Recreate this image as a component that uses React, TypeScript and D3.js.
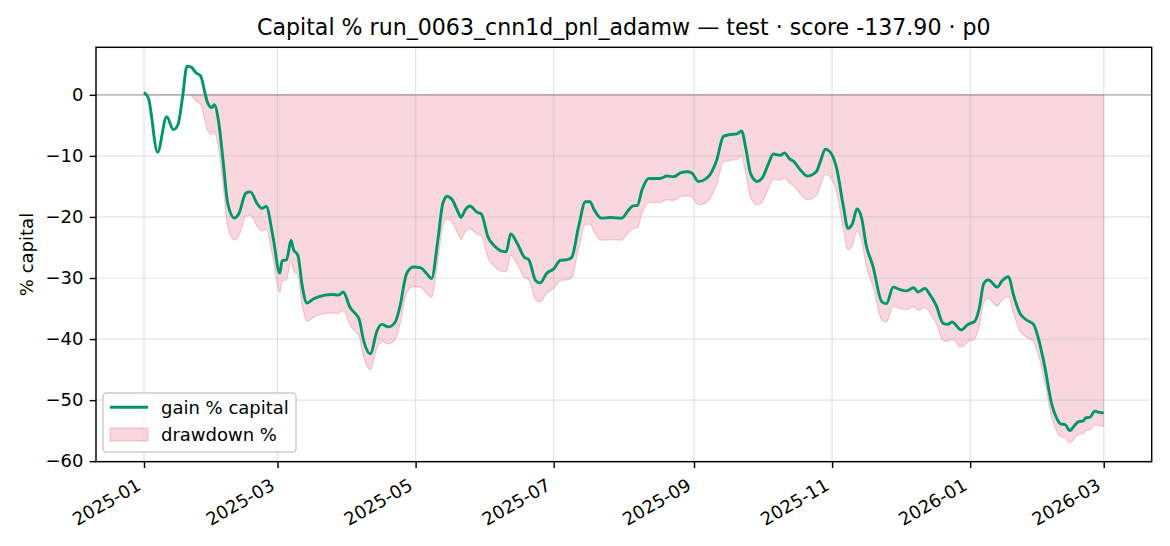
import React, { useEffect, useRef } from 'react';
import * as d3 from 'd3';

// day offsets from 2025-01-01
const startDate = '2025-01-01';
const dayOffsets = [
  0, 2, 6, 10, 13, 15, 17, 19, 21, 23, 25, 27, 28, 30, 31, 33, 35, 37, 40, 42,
  45, 47, 50, 52, 54, 57, 60, 61, 63, 65, 66, 68, 70, 72, 75, 80, 83, 86, 88, 91,
  94, 95, 97, 100, 103, 105, 108, 111, 113, 116, 119, 122, 125, 127, 130, 132, 134, 136, 139, 140,
  142, 144, 147, 149, 152, 155, 158, 160, 162, 165, 168, 170, 173, 175, 178, 181, 184, 187, 189, 192,
  195, 197, 199, 202, 206, 211, 214, 216, 218, 220, 223, 228, 231, 234, 237, 240, 242, 245, 248, 250,
  253, 256, 259, 262, 264, 266, 268, 271, 273, 276, 278, 281, 283, 285, 287, 290, 293, 297, 299, 301,
  303, 306, 309, 311, 313, 315, 317, 319, 322, 326, 328, 331, 334, 337, 340, 342, 345, 347, 350, 353,
  355, 357, 361, 364, 367, 369, 371, 373, 377, 379, 382, 384, 387, 390, 393, 395, 398, 401, 403, 405,
  407, 409, 411, 413, 415, 416, 418, 420, 422, 424,
];

const gainPct = [
  0.4, -0.6, -9.4, -3.6, -5.7, -4.9, -0.5, 4.7, 4.5, 3.6, 3.1, 0.2, -1.2, -2.1, -1.6, -4.5, -11.0, -17.8, -20.2, -19.4,
  -16.1, -15.9, -17.8, -18.6, -18.3, -23.3, -29.2, -27.2, -27.0, -23.8, -25.3, -26.3, -31.5, -34.1, -33.4, -32.8, -32.7, -32.8, -32.3, -34.8,
  -36.1, -36.7, -40.2, -42.4, -38.6, -37.6, -38.0, -37.2, -34.8, -29.3, -28.2, -28.3, -29.3, -30.1, -23.3, -17.8, -16.6, -17.1, -19.4, -20.1,
  -18.8, -18.2, -19.2, -19.5, -23.3, -24.8, -25.6, -25.7, -22.8, -24.4, -26.6, -27.0, -30.4, -30.8, -29.2, -28.5, -27.1, -27.0, -26.6, -21.6,
  -17.5, -17.5, -18.9, -20.2, -20.1, -20.2, -18.9, -18.2, -18.1, -15.6, -13.7, -13.7, -13.3, -13.4, -12.8, -12.6, -12.8, -14.2, -13.8, -13.1,
  -10.7, -6.8, -6.5, -6.4, -5.9, -9.0, -12.9, -14.2, -13.7, -11.2, -9.7, -9.9, -9.5, -10.4, -10.9, -12.3, -13.3, -12.6, -10.7, -8.9,
  -9.3, -12.0, -18.3, -21.9, -21.1, -18.7, -20.1, -24.5, -28.0, -33.9, -34.2, -31.5, -31.9, -32.1, -31.6, -32.3, -31.7, -32.6, -34.5, -37.4,
  -37.6, -37.2, -38.5, -37.6, -37.1, -35.0, -30.9, -30.3, -31.5, -30.5, -29.8, -32.6, -35.8, -36.9, -37.6, -39.7, -44.6, -50.6, -52.8, -53.9,
  -54.0, -55.0, -54.2, -53.5, -53.4, -52.9, -52.8, -51.8, -52.0, -52.1,
];

const drawdownPct = [
  0, 0, 0, 0, 0, 0, 0, 0, -0.2, -1.0, -1.5, -4.3, -5.7, -6.5, -6.0, -8.8, -15.0, -21.5, -23.8, -23.0,
  -19.9, -19.7, -21.5, -22.3, -22.0, -26.7, -32.4, -30.5, -30.3, -27.2, -28.7, -29.6, -34.6, -37.1, -36.4, -35.8, -35.7, -35.8, -35.3, -37.7,
  -39.0, -39.5, -42.9, -45.0, -41.4, -40.4, -40.8, -40.0, -37.7, -32.5, -31.4, -31.5, -32.5, -33.2, -26.7, -21.5, -20.3, -20.8, -23.0, -23.7,
  -22.4, -21.9, -22.8, -23.1, -26.7, -28.2, -28.9, -29.0, -26.3, -27.8, -29.9, -30.3, -33.5, -33.9, -32.4, -31.7, -30.4, -30.3, -29.9, -25.1,
  -21.2, -21.2, -22.5, -23.8, -23.7, -23.8, -22.5, -21.9, -21.8, -19.4, -17.6, -17.6, -17.2, -17.3, -16.7, -16.5, -16.7, -18.0, -17.7, -17.0,
  -14.7, -11.0, -10.7, -10.6, -10.1, -13.1, -16.8, -18.0, -17.6, -15.2, -13.8, -14.0, -13.6, -14.4, -14.9, -16.2, -17.2, -16.5, -14.7, -13.0,
  -13.4, -15.9, -22.0, -25.4, -24.6, -22.3, -23.7, -27.9, -31.2, -36.9, -37.2, -34.6, -35.0, -35.2, -34.7, -35.3, -34.8, -35.6, -37.4, -40.2,
  -40.4, -40.0, -41.3, -40.4, -39.9, -37.9, -34.0, -33.4, -34.6, -33.6, -33.0, -35.6, -38.7, -39.7, -40.4, -42.4, -47.1, -52.8, -54.9, -56.0,
  -56.1, -57.0, -56.3, -55.6, -55.5, -55.0, -54.9, -54.0, -54.2, -54.3,
];

const xTickLabels = ['2025-01', '2025-03', '2025-05', '2025-07', '2025-09', '2025-11', '2026-01', '2026-03'];
const yTicks = [-60, -50, -40, -30, -20, -10, 0];

const title = 'Capital % run_0063_cnn1d_pnl_adamw — test · score -137.90 · p0';
const lineColor = '#00966b';
const fillColor = '#dc143c';
const font = '"DejaVu Sans", sans-serif';

const App: React.FC = () => {
  const ref = useRef<SVGSVGElement | null>(null);

  useEffect(() => {
    if (!ref.current) return;
    const W = 1170, H = 546;
    const left = 96, right = 1151.7, top = 47.3, bottom = 461.7;

    const t0 = d3.utcParse('%Y-%m-%d')(startDate) as Date;
    const n = Math.min(dayOffsets.length, gainPct.length, drawdownPct.length);
    const rows = d3.range(n).map(i => ({
      date: d3.utcDay.offset(t0, dayOffsets[i]),
      gain: gainPct[i],
      dd: drawdownPct[i],
    }));

    const [xmin, xmax] = d3.extent(rows, d => d.date.getTime()) as [number, number];
    const xpad = (xmax - xmin) * 0.05;
    const x = d3.scaleUtc().domain([xmin - xpad, xmax + xpad]).range([left, right]);

    const ymin = Math.min(d3.min(rows, d => d.dd) as number, d3.min(rows, d => d.gain) as number, 0);
    const ymax = Math.max(d3.max(rows, d => d.gain) as number, 0);
    const ypad = (ymax - ymin) * 0.05;
    const y = d3.scaleLinear().domain([ymin - ypad, ymax + ypad]).range([bottom, top]);

    const svg = d3.select(ref.current);
    svg.selectAll('*').remove();
    svg.attr('width', W).attr('height', H).style('font-family', font);

    svg.append('rect').attr('width', W).attr('height', H).attr('fill', 'white');

    const tickDates = xTickLabels.map(s => d3.utcParse('%Y-%m')(s) as Date);

    // drawdown fill
    const area = d3.area<typeof rows[number]>()
      .x(d => x(d.date))
      .y0(y(0))
      .y1(d => y(d.dd))
      .curve(d3.curveMonotoneX);
    svg.append('path')
      .datum(rows)
      .attr('d', area)
      .attr('fill', fillColor)
      .attr('fill-opacity', 0.17)
      .attr('stroke', fillColor)
      .attr('stroke-opacity', 0.2)
      .attr('stroke-width', 1.2);

    // grid
    const grid = svg.append('g').attr('stroke', '#b0b0b0').attr('stroke-opacity', 0.35).attr('stroke-width', 1.2);
    grid.selectAll('.gx').data(tickDates).enter().append('line')
      .attr('x1', d => x(d)).attr('x2', d => x(d)).attr('y1', top).attr('y2', bottom);
    grid.selectAll('.gy').data(yTicks).enter().append('line')
      .attr('x1', left).attr('x2', right).attr('y1', d => y(d)).attr('y2', d => y(d));

    // zero line
    svg.append('line')
      .attr('x1', left).attr('x2', right).attr('y1', y(0)).attr('y2', y(0))
      .attr('stroke', '#7a7f88').attr('stroke-opacity', 0.6).attr('stroke-width', 1.3);

    // gain line
    const line = d3.line<typeof rows[number]>()
      .x(d => x(d.date))
      .y(d => y(d.gain))
      .curve(d3.curveMonotoneX);
    svg.append('path')
      .datum(rows)
      .attr('d', line)
      .attr('fill', 'none')
      .attr('stroke', lineColor)
      .attr('stroke-width', 2.9)
      .attr('stroke-linejoin', 'round');

    // frame
    svg.append('rect')
      .attr('x', left).attr('y', top).attr('width', right - left).attr('height', bottom - top)
      .attr('fill', 'none').attr('stroke', 'black').attr('stroke-width', 1.44);

    // axes
    const xAxis = svg.append('g')
      .attr('transform', `translate(0,${bottom})`)
      .call(d3.axisBottom(x).tickValues(tickDates).tickSize(6.3).tickPadding(6.3)
        .tickFormat(d => d3.utcFormat('%Y-%m')(d as Date)));
    xAxis.select('.domain').remove();
    xAxis.selectAll('line').attr('stroke-width', 1.44);
    xAxis.selectAll('text')
      .attr('y', 0).attr('dy', 0).attr('x', 0)
      .attr('text-anchor', 'end')
      .attr('transform', 'translate(-2.2,27) rotate(-30)')
      .style('font-size', '18px').style('font-family', font).attr('fill', 'black');

    const yAxis = svg.append('g')
      .attr('transform', `translate(${left},0)`)
      .call(d3.axisLeft(y).tickValues(yTicks).tickSize(6.3).tickPadding(6.3));
    yAxis.select('.domain').remove();
    yAxis.selectAll('line').attr('stroke-width', 1.44);
    yAxis.selectAll('text')
      .style('font-size', '18px').style('font-family', font).attr('fill', 'black');

    svg.append('text')
      .attr('transform', `translate(33,${(top + bottom) / 2}) rotate(-90)`)
      .attr('text-anchor', 'middle')
      .style('font-size', '18px')
      .text('% capital');

    svg.append('text')
      .attr('x', (left + right) / 2).attr('y', 35)
      .attr('text-anchor', 'middle')
      .style('font-size', '22.1px')
      .text(title);

    // legend
    const lg = svg.append('g');
    lg.append('rect')
      .attr('x', 103).attr('y', 393).attr('width', 193).attr('height', 59).attr('rx', 3.6)
      .attr('fill', 'white').attr('fill-opacity', 0.8)
      .attr('stroke', '#cccccc').attr('stroke-width', 1.44);
    lg.append('line')
      .attr('x1', 110).attr('x2', 148).attr('y1', 407.3).attr('y2', 407.3)
      .attr('stroke', lineColor).attr('stroke-width', 2.9);
    lg.append('rect')
      .attr('x', 110).attr('y', 428).attr('width', 38).attr('height', 13)
      .attr('fill', fillColor).attr('fill-opacity', 0.17)
      .attr('stroke', fillColor).attr('stroke-opacity', 0.2).attr('stroke-width', 1.2);
    lg.append('text').attr('x', 161).attr('y', 413.5).style('font-size', '18px').text('gain % capital');
    lg.append('text').attr('x', 161).attr('y', 440.5).style('font-size', '18px').text('drawdown %');
  }, []);

  return <svg ref={ref} style={{ position: 'absolute', left: 0, top: 0, display: 'block' }} />;
};

export default App;
